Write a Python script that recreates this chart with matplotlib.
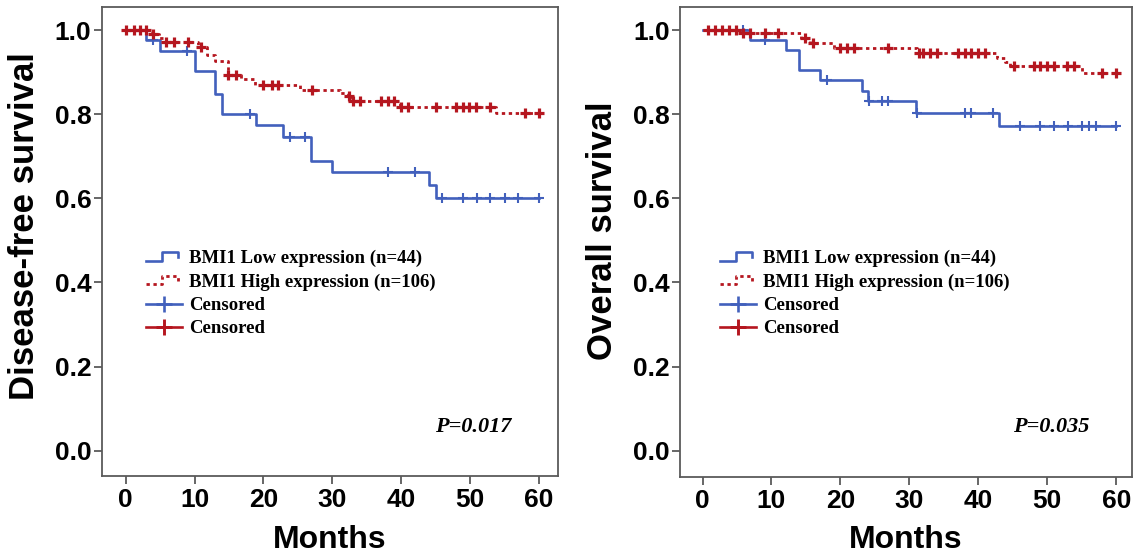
import numpy as np
import matplotlib
matplotlib.use("Agg")
import matplotlib.pyplot as plt
from matplotlib.lines import Line2D
from matplotlib.legend_handler import HandlerBase


# Kaplan-Meier steps (months, survival), plus censor times
dfs_low_t = [0, 3.0, 5.0, 10.0, 13.0, 14.0, 18.9, 22.9, 26.9, 29.9, 44.1, 45.1, 60]
dfs_low_s = [1.0, 0.977, 0.951, 0.902, 0.849, 0.800, 0.773, 0.746, 0.689, 0.662, 0.632, 0.600, 0.600]
dfs_low_cens = [4.0, 8.9, 18.0, 23.9, 26.0, 38.1, 42.0, 45.9, 48.9, 51.0, 52.9, 55.0, 57.0, 60.0]

dfs_high_t = [0, 3.8, 4.9, 5.5, 10.5, 11.8, 12.9, 14.9, 16.8, 18.7, 25.3, 31.1, 32.3, 32.8, 39.8, 53.8, 60]
dfs_high_s = [1.0, 0.990, 0.980, 0.971, 0.960, 0.940, 0.926, 0.893, 0.884, 0.869, 0.857, 0.850, 0.843,
              0.832, 0.818, 0.802, 0.802]
dfs_high_cens = [0.1, 1.2, 2.1, 3.0, 4.0, 5.9, 7.0, 9.1, 11.0, 14.9, 16.0, 19.9, 21.2, 22.1, 27.0,
                 32.4, 33.0, 34.0, 37.1, 38.1, 39.0, 40.0, 41.0, 45.1, 48.0, 48.9, 49.9, 50.9,
                 52.9, 58.0, 60.0]

os_low_t = [0, 6.9, 12.1, 14.0, 17.0, 23.1, 24.0, 31.0, 43.0, 60]
os_low_s = [1.0, 0.976, 0.952, 0.905, 0.880, 0.856, 0.831, 0.802, 0.772, 0.772]
os_low_cens = [5.9, 9.1, 18.0, 24.1, 26.0, 26.9, 31.1, 38.1, 38.9, 42.1, 46.0, 49.0, 51.0,
               53.0, 55.0, 56.0, 57.0, 60.0]

os_high_t = [0, 5.7, 14.3, 15.6, 19.0, 31.05, 42.65, 43.9, 44.6, 55.0, 60]
os_high_s = [1.0, 0.992, 0.980, 0.968, 0.957, 0.945, 0.933, 0.925, 0.915, 0.898, 0.898]
os_high_cens = [0.8, 1.8, 2.8, 3.9, 4.9, 5.9, 6.9, 9.1, 11.0, 14.9, 16.0, 19.9, 20.9, 21.9,
                26.9, 31.4, 32.0, 33.0, 34.0, 37.1, 38.1, 39.0, 40.0, 41.0, 45.1, 48.0, 48.9,
                49.9, 50.9, 52.8, 53.8, 57.9, 60.0]

ylabels = ["Disease-free survival", "Overall survival"]
pvalues = ["P=0.017", "P=0.035"]
legend_labels = ["BMI1 Low expression (n=44)", "BMI1 High expression (n=106)",
                 "Censored", "Censored"]

BLUE = "#4260bc"
RED = "#b5161f"
SPINE = "#5a5a5a"
W, H = 1133, 556


class StepHandler(HandlerBase):
    # small step icon like the SPSS legend
    def create_artists(self, legend, orig_handle, xdescent, ydescent, width, height,
                       fontsize, trans):
        x0, y0 = -xdescent, -ydescent
        xs = [x0, x0 + 0.45 * width, x0 + 0.45 * width, x0 + 0.9 * width, x0 + 0.9 * width]
        ys = [y0 + 0.2 * height, y0 + 0.2 * height, y0 + 0.85 * height, y0 + 0.85 * height,
              y0 + 0.45 * height]
        ln = Line2D(xs, ys)
        ln.update_from(orig_handle)
        ln.set_marker("None")
        ln.set_transform(trans)
        return [ln]


def step_value(t, s, c):
    i = np.searchsorted(t, c, side="right") - 1
    return np.asarray(s)[i]


def km(ax, t, s, cens, color, dotted, mew):
    if dotted:
        line, = ax.step(t, s, where="post", color=color, lw=2.0, dashes=(1.2, 1.3))
    else:
        line, = ax.step(t, s, where="post", color=color, lw=1.9)
    ax.plot(cens, step_value(t, s, cens), ls="none", marker="+", ms=7.5, mew=mew, color=color)
    return line


panels = [
    # axes box in pixels (left, top, right, bottom), x pixel of month 0 and 60
    dict(box=(101.7, 6.7, 558, 475.7), x0=125.7, x60=539.0,
         low=(dfs_low_t, dfs_low_s, dfs_low_cens), high=(dfs_high_t, dfs_high_s, dfs_high_cens),
         ylab_x=25, ylab_y=226, p_x=435, leg_x=146),
    dict(box=(680, 7, 1132, 477), x0=702.5, x60=1116.3,
         low=(os_low_t, os_low_s, os_low_cens), high=(os_high_t, os_high_s, os_high_cens),
         ylab_x=603, ylab_y=231, p_x=1013, leg_x=720),
]

fig = plt.figure(figsize=(W / 100, H / 100), dpi=100)

for k, p in enumerate(panels):
    l, t, r, b = p["box"]
    ax = fig.add_axes([l / W, (H - b) / H, (r - l) / W, (b - t) / H])
    ppm = (p["x60"] - p["x0"]) / 60.0
    ax.set_xlim((l - p["x0"]) / ppm, (r - p["x0"]) / ppm)
    y_zero, ppu = 450.7, 420.7
    ax.set_ylim((y_zero - b) / ppu, (y_zero - t) / ppu)

    low = km(ax, *p["low"], BLUE, False, 1.5)
    high = km(ax, *p["high"], RED, True, 2.3)

    for sp in ax.spines.values():
        sp.set_color(SPINE)
        sp.set_linewidth(1.3)
    ax.set_xticks(np.arange(0, 61, 10))
    ax.set_yticks(np.arange(0, 1.01, 0.2))
    ax.set_yticklabels(["%.1f" % v for v in np.arange(0, 1.01, 0.2)])
    ax.tick_params(axis="both", direction="out", color=SPINE, width=1.3, length=6, pad=3,
                   labelsize=19)
    ax.tick_params(axis="y", pad=1.5)
    for lab in ax.get_xticklabels() + ax.get_yticklabels():
        lab.set_fontfamily("Liberation Sans")
        lab.set_fontweight("bold")

    fig.text(p["ylab_x"] / W, 1 - p["ylab_y"] / H, ylabels[k], rotation=90, ha="center",
             va="center", fontsize=25, fontweight="bold", family="Liberation Sans")
    fig.text(((l + r) / 2) / W, 1 - 540 / H, "Months", ha="center", va="center",
             fontsize=23, fontweight="bold", family="Liberation Sans")

    ax.text((p["p_x"] - l) / (r - l), (b - 427) / (b - t), pvalues[k], transform=ax.transAxes,
            ha="left", va="center", fontsize=16, fontweight="bold", fontstyle="italic",
            family="Liberation Serif")

    c_low = Line2D([], [], color=BLUE, lw=1.9, marker="+", ms=12, mew=1.9)
    c_high = Line2D([], [], color=RED, lw=1.9, marker="+", ms=12, mew=2.1)
    ax.legend([low, high, c_low, c_high], legend_labels,
              handler_map={low: StepHandler(), high: StepHandler()},
              loc="upper left",
              bbox_to_anchor=((p["leg_x"] - l) / (r - l), (b - 250) / (b - t)),
              frameon=False, borderpad=0, borderaxespad=0, handlelength=1.9,
              handletextpad=0.4, labelspacing=0.33,
              prop=dict(family="Liberation Serif", weight="bold", size=13.5))

fig.savefig("out.png", dpi=100)
